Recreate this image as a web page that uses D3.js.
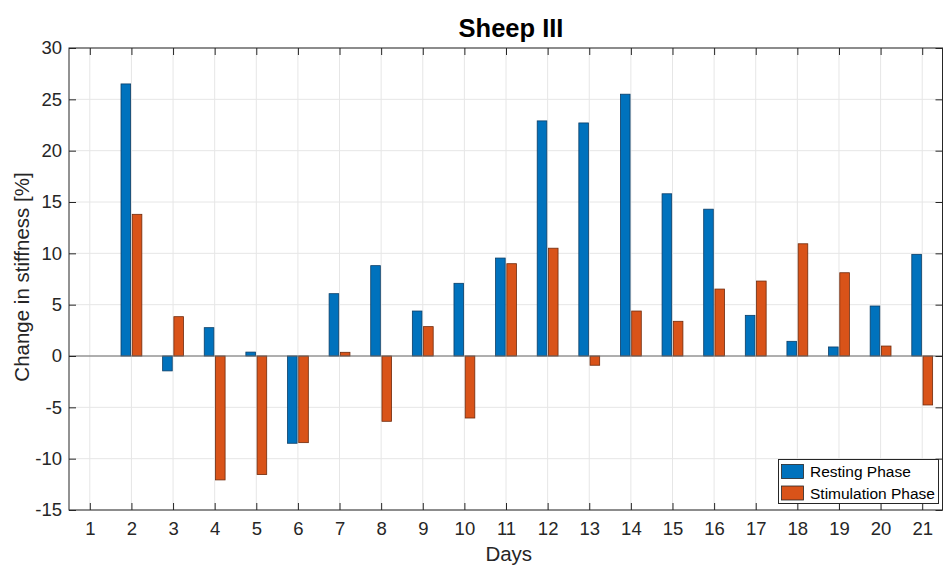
<!DOCTYPE html>
<html><head><meta charset="utf-8">
<script src="https://cdn.jsdelivr.net/npm/d3@7"></script>
<style>body{margin:0;background:#fff}svg{display:block}text{font-family:"Liberation Sans",Arial,sans-serif}</style>
</head><body>
<script>
const days = [1,2,3,4,5,6,7,8,9,10,11,12,13,14,15,16,17,18,19,20,21];
const resting = [null,26.5,-1.45,2.76,0.38,-8.5,6.07,8.8,4.38,7.08,9.54,22.9,22.7,25.5,15.8,14.3,3.96,1.43,0.88,4.87,9.9];
const stimulation = [null,13.8,3.83,-12.07,-11.55,-8.44,0.36,-6.36,2.86,-6.04,8.99,10.5,-0.9,4.38,3.38,6.52,7.3,10.93,8.11,0.97,-4.77];
const yTicks = [-15,-10,-5,0,5,10,15,20,25,30];
const seriesNames = ["Resting Phase","Stimulation Phase"];
const colors = ["#0072BD","#D95319"];
const strokes = ["#0a3d66","#6e2a0c"];

const W=943,H=565;
const m={l:69,r:0,t:48,b:55};
const svg=d3.select("body").append("svg").attr("width",W).attr("height",H);
const x=d3.scaleLinear().domain([0.5,21.5]).range([m.l,m.l+21*41.62]);
const y=d3.scaleLinear().domain([-15,30]).range([H-m.b,m.t]);
const x0=m.l,x1=W-0.5,y0=m.t,y1=H-m.b;

// grid
const g=svg.append("g");
g.selectAll(".gx").data(days).join("line").attr("x1",d=>x(d)).attr("x2",d=>x(d)).attr("y1",y0).attr("y2",y1).attr("stroke","#e6e6e6").attr("stroke-width",1);
g.selectAll(".gy").data(yTicks).join("line").attr("x1",x0).attr("x2",x1).attr("y1",d=>y(d)).attr("y2",d=>y(d)).attr("stroke","#e6e6e6").attr("stroke-width",1);

// bars
const bw=9.6, off=0.135;
[resting,stimulation].forEach((arr,i)=>{
  const data=days.map((d,j)=>({d,v:arr[j]})).filter(e=>e.v!==null);
  svg.append("g").selectAll("rect").data(data).join("rect")
    .attr("x",e=>x(e.d+(i===0?-off:off))-bw/2)
    .attr("width",bw)
    .attr("y",e=>y(Math.max(0,e.v)))
    .attr("height",e=>Math.abs(y(e.v)-y(0)))
    .attr("fill",colors[i]).attr("stroke",strokes[i]).attr("stroke-width",0.8);
});
// baseline
svg.append("line").attr("x1",x0).attr("x2",x1).attr("y1",y(0)).attr("y2",y(0)).attr("stroke","#6b6b6b").attr("stroke-width",1);

// axes
const ax=svg.append("g").attr("transform",`translate(0,${y1})`).call(d3.axisBottom(x).tickValues(days).tickFormat(d=>String(d)).tickSizeInner(-7).tickSizeOuter(0).tickPadding(12));
const ay=svg.append("g").attr("transform",`translate(${x0},0)`).call(d3.axisLeft(y).tickValues(yTicks).tickFormat(d=>String(d)).tickSizeInner(-7).tickSizeOuter(0).tickPadding(7));
const axT=svg.append("g").attr("transform",`translate(0,${y0})`).call(d3.axisTop(x).tickValues(days).tickFormat("").tickSizeInner(-7).tickSizeOuter(0));
const ayR=svg.append("g").attr("transform",`translate(${x1},0)`).call(d3.axisRight(y).tickValues(yTicks).tickFormat("").tickSizeInner(-7).tickSizeOuter(0));
[ax,ay,axT,ayR].forEach(a=>{a.select(".domain").remove();a.selectAll("line").attr("stroke","#262626");a.selectAll("text").attr("fill","#262626").style("font-size","18.5px").style("font-family","'Liberation Sans',Arial,sans-serif");});
svg.append("rect").attr("x",x0).attr("y",y0).attr("width",x1-x0).attr("height",y1-y0).attr("fill","none").attr("stroke","#262626").attr("stroke-width",1);

// labels
svg.append("text").attr("x",511).attr("y",37).attr("text-anchor","middle").style("font-size","25.5px").style("font-weight","bold").attr("fill","#000").text("Sheep III");
svg.append("text").attr("x",(x0+x1)/2+3).attr("y",561).attr("text-anchor","middle").style("font-size","20.5px").attr("fill","#262626").text("Days");
svg.append("text").attr("transform",`translate(29,${(y0+y1)/2-2}) rotate(-90)`).attr("text-anchor","middle").style("font-size","20.5px").attr("fill","#262626").text("Change in stiffness [%]");

// legend
const lg=svg.append("g");
lg.append("rect").attr("x",778.5).attr("y",459.5).attr("width",160).attr("height",44).attr("fill","#fff").attr("stroke","#262626").attr("stroke-width",1);
seriesNames.forEach((n,i)=>{
  lg.append("rect").attr("x",781.5).attr("y",464.5+i*21.5).attr("width",22).attr("height",14).attr("fill",colors[i]).attr("stroke","#262626").attr("stroke-width",0.8);
  lg.append("text").attr("x",810).attr("y",477+i*21.5).style("font-size","15.5px").attr("fill","#000").text(n);
});
</script>
</body></html>
